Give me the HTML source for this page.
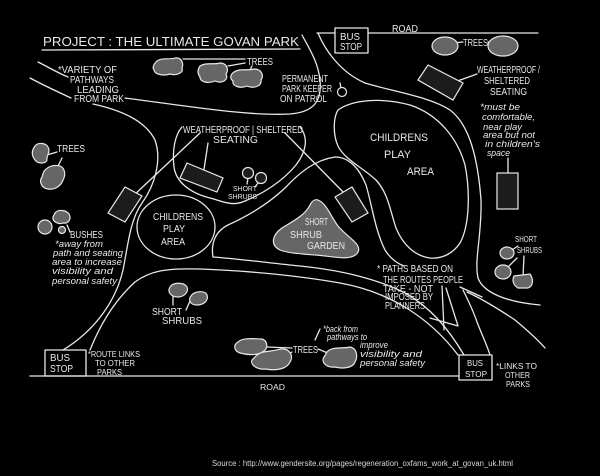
<!DOCTYPE html>
<html>
<head>
<meta charset="utf-8">
<style>
html,body{margin:0;padding:0;background:#000;}
svg{display:block;}
text{font-family:"Liberation Sans",sans-serif;fill:#e8e8e8;}
.h{font-size:10px;}
.s{font-size:8px;}
.sc{font-size:9px;font-style:italic;}
</style>
</head>
<body>
<svg width="600" height="476" viewBox="0 0 600 476" xmlns="http://www.w3.org/2000/svg">
<rect x="0" y="0" width="600" height="476" fill="#000"/>
<g fill="none" stroke="#e8e8e8" stroke-width="1.3" stroke-linecap="round" stroke-linejoin="round">
  <!-- title underline -->
  <path d="M42,50 L300,49"/>
  <!-- top road -->
  <path d="M317,33 L335,33 M368,33 L538,33"/>
  <rect x="335" y="28" width="33" height="25"/>
  <!-- top path left edge / upper-left path -->
  <path d="M302,35 C310,50 318,62 320,80 C322,100 315,112 290,114 C250,116 200,108 125,98"/>
  <path d="M38,62 C50,68 58,73 68,77"/>
  <path d="M30,78 C45,86 58,92 71,98"/>
  <!-- lower-left long line to bus stop -->
  <path d="M93,104 C120,110 145,120 155,140 C162,160 155,185 142,203 C130,220 128,245 123,270 C116,300 96,330 63,350"/>
  <!-- band from bus stop right -->
  <path d="M90,350 C100,325 115,300 135,282 C150,271 165,268 200,269 C250,271 300,276 340,283 C390,292 430,318 458,355"/>
  <!-- upper band line -->
  <path d="M213,257 C240,259 270,263 300,266 C340,270 375,278 405,293 C430,307 448,328 464,355"/>
  <!-- curve B around centre -->
  <path d="M213,257 C211,245 214,232 228,225 C248,216 268,204 285,188 C300,172 315,160 335,157 C350,157 360,170 366,185 C372,205 375,230 385,250 C390,258 396,263 404,266"/>
  <!-- play area loop -->
  <path d="M338,110 C352,100 380,97 410,105 C440,115 458,140 465,165 C470,190 470,225 460,243 C452,255 440,259 430,258 C415,256 403,245 396,228 C390,210 388,193 376,180 C362,167 345,160 338,146 C333,135 333,118 338,110 Z"/>
  <!-- right outer line -->
  <path d="M318,33 C325,50 340,72 365,83 C395,92 430,97 450,110 C470,125 478,160 481,200 C482,235 474,260 478,278 C483,292 505,302 540,305"/>
  <!-- paths based lines -->
  <path d="M442,286 L444,330"/>
  <path d="M446,288 L458,326 L430,318"/>
  <path d="M460,287 L482,297"/>
  <path d="M463,290 C468,300 473,310 477,322 C482,335 487,345 490,355"/>
  <path d="M467,292 C480,298 500,310 515,320 C527,330 538,340 545,348"/>
  <!-- seating loop -->
  <path d="M182,127 C175,135 172,150 174,167 C176,182 190,193 210,198 C222,201 232,207 245,201 C262,194 282,182 296,165 C306,152 309,138 300,127"/>
  <!-- left play area -->
  <ellipse cx="176" cy="227" rx="39" ry="32"/>
  <!-- bottom road -->
  <path d="M30,376 L459,376"/>
  <rect x="45" y="350" width="41" height="26"/>
  <rect x="459" y="355" width="33" height="25"/>
  <!-- connectors -->
  <path d="M183,59 L245,59 M228,66 L245,63 M250,70 L252,66"/>
  <path d="M453,43 L463,42 M488,42 L500,44"/>
  <path d="M477,74 L452,83"/>
  <path d="M508,158 L508,177"/>
  <path d="M47,155 L57,152 M55,172 L62,158"/>
  <path d="M200,133 L132,197"/>
  <path d="M208,143 L203,176"/>
  <path d="M285,133 L347,196"/>
  <path d="M248,178 L247,184 M258,183 L255,187"/>
  <path d="M67,225 L70,232"/>
  <path d="M340,83 L341,88"/>
  <path d="M173,297 L173,305 M190,301 L186,310"/>
  <path d="M267,347 L292,348 M282,358 L292,352 M318,349 L330,354"/>
  <path d="M320,329 L315,340"/>
  <path d="M512,250 L518,246 M507,268 L517,258 M523,276 L524,256"/>
</g>
<!-- filled shapes -->
<g stroke="#e8e8e8" stroke-width="1.2" fill="#666">
  <path d="M156,62 C160,57 170,60 175,58 C181,57 184,63 182,68 C184,73 176,76 170,74 C164,76 155,75 154,70 C152,67 154,64 156,62 Z"/>
  <path d="M200,66 C206,62 214,65 220,63 C227,63 229,70 226,74 C229,80 222,84 215,81 C208,84 200,82 200,77 C197,73 198,69 200,66 Z"/>
  <path d="M234,72 C240,68 248,71 254,69 C262,69 264,76 261,80 C262,86 254,89 247,86 C240,89 232,86 233,81 C229,78 231,74 234,72 Z"/>
  <ellipse cx="445" cy="46" rx="13" ry="9"/>
  <ellipse cx="503" cy="46" rx="15" ry="10"/>
  <path d="M35,146 C38,142 46,143 48,147 C51,152 46,156 47,160 C46,164 38,164 35,160 C31,155 32,150 35,146 Z"/>
  <path d="M45,170 C50,165 56,165 60,166 C65,168 66,175 63,180 C61,186 55,190 48,189 C41,188 39,181 42,177 C43,174 43,172 45,170 Z"/>
  <circle cx="45" cy="227" r="7"/>
  <path d="M55,213 C58,209 66,210 69,214 C72,219 68,224 63,223 C58,225 52,221 53,217 Z"/>
  <circle cx="62" cy="230" r="3.5"/>
  <path d="M318,200 C326,203 330,215 338,226 C348,238 362,244 358,252 C354,260 340,258 325,256 C308,254 290,254 280,250 C270,245 272,235 282,228 C295,220 305,215 310,205 C312,201 315,199 318,200 Z"/>
  <path d="M170,287 C173,282 184,282 187,287 C189,292 184,297 178,297 C171,297 167,292 170,287 Z"/>
  <path d="M191,296 C194,291 205,290 207,295 C209,301 203,305 197,305 C190,305 188,300 191,296 Z"/>
  <path d="M238,342 C243,337 255,339 262,339 C268,341 268,348 264,351 C258,356 247,355 240,353 C234,351 233,345 238,342 Z"/>
  <path d="M256,356 C262,350 272,352 280,349 C290,348 294,356 290,362 C287,369 276,371 266,369 C256,370 250,364 252,360 Z"/>
  <path d="M327,352 C332,346 343,349 350,347 C357,348 358,357 355,362 C353,368 343,369 335,367 C325,368 321,361 324,357 Z"/>
  <ellipse cx="507" cy="253" rx="7" ry="6"/>
  <ellipse cx="503" cy="272" rx="8" ry="7"/>
  <path d="M514,276 L530,274 C534,280 533,286 528,288 L518,288 C513,285 512,280 514,276 Z"/>
</g>
<g stroke="#e8e8e8" stroke-width="1.2" fill="#1c1c1c">
  <polygon points="187,163 223,178 217,192 180,178"/>
  <polygon points="125,187 142,196 125,222 108,213"/>
  <polygon points="335,197 352,187 368,213 352,222"/>
  <polygon points="418,80 428,65 463,83 453,100"/>
  <rect x="497" y="173" width="21" height="36"/>
  <circle cx="248" cy="173" r="5.5"/>
  <circle cx="261" cy="178" r="5.5"/>
  <circle cx="342" cy="92" r="4.5" fill="#000"/>
</g>
<!-- text -->
<text x="43" y="46" font-size="13" textLength="256" lengthAdjust="spacingAndGlyphs">PROJECT : THE ULTIMATE GOVAN PARK</text>
<text class="h" x="247" y="65" textLength="26" lengthAdjust="spacingAndGlyphs">TREES</text>
<text class="h" x="58" y="73" textLength="59" lengthAdjust="spacingAndGlyphs">*VARIETY OF</text>
<text class="h" x="70" y="83" textLength="44" lengthAdjust="spacingAndGlyphs">PATHWAYS</text>
<text class="h" x="77" y="93" textLength="42" lengthAdjust="spacingAndGlyphs">LEADING</text>
<text class="h" x="74" y="102" textLength="50" lengthAdjust="spacingAndGlyphs">FROM PARK</text>
<text class="h" x="282" y="82" textLength="46" lengthAdjust="spacingAndGlyphs">PERMANENT</text>
<text class="h" x="282" y="92" textLength="50" lengthAdjust="spacingAndGlyphs">PARK KEEPER</text>
<text class="h" x="280" y="102" textLength="47" lengthAdjust="spacingAndGlyphs">ON PATROL</text>
<text class="h" x="340" y="40" textLength="20" lengthAdjust="spacingAndGlyphs">BUS</text>
<text class="h" x="340" y="50" textLength="22" lengthAdjust="spacingAndGlyphs">STOP</text>
<text class="h" x="392" y="32" textLength="26" lengthAdjust="spacingAndGlyphs">ROAD</text>
<text class="h" x="463" y="46" textLength="25" lengthAdjust="spacingAndGlyphs">TREES</text>
<text class="h" x="477" y="73" textLength="63" lengthAdjust="spacingAndGlyphs">WEATHERPROOF /</text>
<text class="h" x="484" y="84" textLength="46" lengthAdjust="spacingAndGlyphs">SHELTERED</text>
<text class="h" x="490" y="95" textLength="37" lengthAdjust="spacingAndGlyphs">SEATING</text>
<text class="sc" x="480" y="110" textLength="40" lengthAdjust="spacingAndGlyphs">*must be</text>
<text class="sc" x="482" y="120" textLength="53" lengthAdjust="spacingAndGlyphs">comfortable,</text>
<text class="sc" x="483" y="130" textLength="39" lengthAdjust="spacingAndGlyphs">near play</text>
<text class="sc" x="483" y="138" textLength="52" lengthAdjust="spacingAndGlyphs">area but not</text>
<text class="sc" x="485" y="147" textLength="55" lengthAdjust="spacingAndGlyphs">in children's</text>
<text class="sc" x="487" y="156" textLength="23" lengthAdjust="spacingAndGlyphs">space</text>
<text class="h" x="57" y="152" textLength="28" lengthAdjust="spacingAndGlyphs">TREES</text>
<text class="h" x="183" y="133" textLength="120" lengthAdjust="spacingAndGlyphs">WEATHERPROOF | SHELTERED</text>
<text class="h" x="213" y="143" textLength="45" lengthAdjust="spacingAndGlyphs">SEATING</text>
<text font-size="11" x="370" y="141" textLength="58" lengthAdjust="spacingAndGlyphs">CHILDRENS</text>
<text font-size="11" x="384" y="158" textLength="27" lengthAdjust="spacingAndGlyphs">PLAY</text>
<text font-size="11" x="407" y="175" textLength="27" lengthAdjust="spacingAndGlyphs">AREA</text>
<text font-size="7" x="233" y="191" textLength="24" lengthAdjust="spacingAndGlyphs">SHORT</text>
<text font-size="7" x="228" y="199" textLength="29" lengthAdjust="spacingAndGlyphs">SHRUBS</text>
<text class="h" x="153" y="220" textLength="50" lengthAdjust="spacingAndGlyphs">CHILDRENS</text>
<text class="h" x="163" y="232" textLength="22" lengthAdjust="spacingAndGlyphs">PLAY</text>
<text class="h" x="161" y="245" textLength="24" lengthAdjust="spacingAndGlyphs">AREA</text>
<text class="h" x="70" y="238" textLength="33" lengthAdjust="spacingAndGlyphs">BUSHES</text>
<text class="sc" x="55" y="247" textLength="48" lengthAdjust="spacingAndGlyphs">*away from</text>
<text class="sc" x="53" y="256" textLength="70" lengthAdjust="spacingAndGlyphs">path and seating</text>
<text class="sc" x="52" y="265" textLength="70" lengthAdjust="spacingAndGlyphs">area to increase</text>
<text class="sc" x="52" y="274" textLength="61" lengthAdjust="spacingAndGlyphs">visibility and</text>
<text class="sc" x="52" y="284" textLength="65" lengthAdjust="spacingAndGlyphs">personal safety</text>
<text class="h" x="305" y="225" textLength="23" lengthAdjust="spacingAndGlyphs">SHORT</text>
<text class="h" x="290" y="238" textLength="32" lengthAdjust="spacingAndGlyphs">SHRUB</text>
<text class="h" x="307" y="249" textLength="38" lengthAdjust="spacingAndGlyphs">GARDEN</text>
<text class="s" x="515" y="242" textLength="22" lengthAdjust="spacingAndGlyphs">SHORT</text>
<text class="s" x="517" y="253" textLength="25" lengthAdjust="spacingAndGlyphs">SHRUBS</text>
<text class="h" x="377" y="272" textLength="76" lengthAdjust="spacingAndGlyphs">* PATHS BASED ON</text>
<text class="h" x="383" y="283" textLength="80" lengthAdjust="spacingAndGlyphs">THE ROUTES PEOPLE</text>
<text class="h" x="383" y="292" textLength="50" lengthAdjust="spacingAndGlyphs">TAKE - NOT</text>
<text class="h" x="385" y="300" textLength="48" lengthAdjust="spacingAndGlyphs">IMPOSED BY</text>
<text class="h" x="385" y="309" textLength="40" lengthAdjust="spacingAndGlyphs">PLANNERS</text>
<text class="h" x="152" y="315" textLength="30" lengthAdjust="spacingAndGlyphs">SHORT</text>
<text class="h" x="162" y="324" textLength="40" lengthAdjust="spacingAndGlyphs">SHRUBS</text>
<text class="h" x="293" y="353" textLength="25" lengthAdjust="spacingAndGlyphs">TREES</text>
<text class="sc" x="323" y="332" textLength="35" lengthAdjust="spacingAndGlyphs">*back from</text>
<text class="sc" x="327" y="340" textLength="40" lengthAdjust="spacingAndGlyphs">pathways to</text>
<text class="sc" x="360" y="348" textLength="28" lengthAdjust="spacingAndGlyphs">improve</text>
<text class="sc" x="360" y="357" textLength="62" lengthAdjust="spacingAndGlyphs">visibility and</text>
<text class="sc" x="360" y="366" textLength="65" lengthAdjust="spacingAndGlyphs">personal safety</text>
<text class="h" x="50" y="361" textLength="20" lengthAdjust="spacingAndGlyphs">BUS</text>
<text class="h" x="50" y="372" textLength="23" lengthAdjust="spacingAndGlyphs">STOP</text>
<text class="s" x="88" y="357" textLength="52" lengthAdjust="spacingAndGlyphs">*ROUTE LINKS</text>
<text class="s" x="95" y="366" textLength="40" lengthAdjust="spacingAndGlyphs">TO OTHER</text>
<text class="s" x="97" y="375" textLength="25" lengthAdjust="spacingAndGlyphs">PARKS</text>
<text class="s" x="260" y="390" textLength="25" lengthAdjust="spacingAndGlyphs">ROAD</text>
<text class="s" x="467" y="366" textLength="16" lengthAdjust="spacingAndGlyphs">BUS</text>
<text class="s" x="465" y="377" textLength="22" lengthAdjust="spacingAndGlyphs">STOP</text>
<text class="s" x="496" y="369" textLength="41" lengthAdjust="spacingAndGlyphs">*LINKS TO</text>
<text class="s" x="505" y="378" textLength="25" lengthAdjust="spacingAndGlyphs">OTHER</text>
<text class="s" x="506" y="387" textLength="24" lengthAdjust="spacingAndGlyphs">PARKS</text>
<text x="212" y="466" font-size="8" style="fill:#d8d8d8" textLength="301" lengthAdjust="spacingAndGlyphs">Source : http://www.gendersite.org/pages/regeneration_oxfams_work_at_govan_uk.html</text>
</svg>
</body>
</html>
